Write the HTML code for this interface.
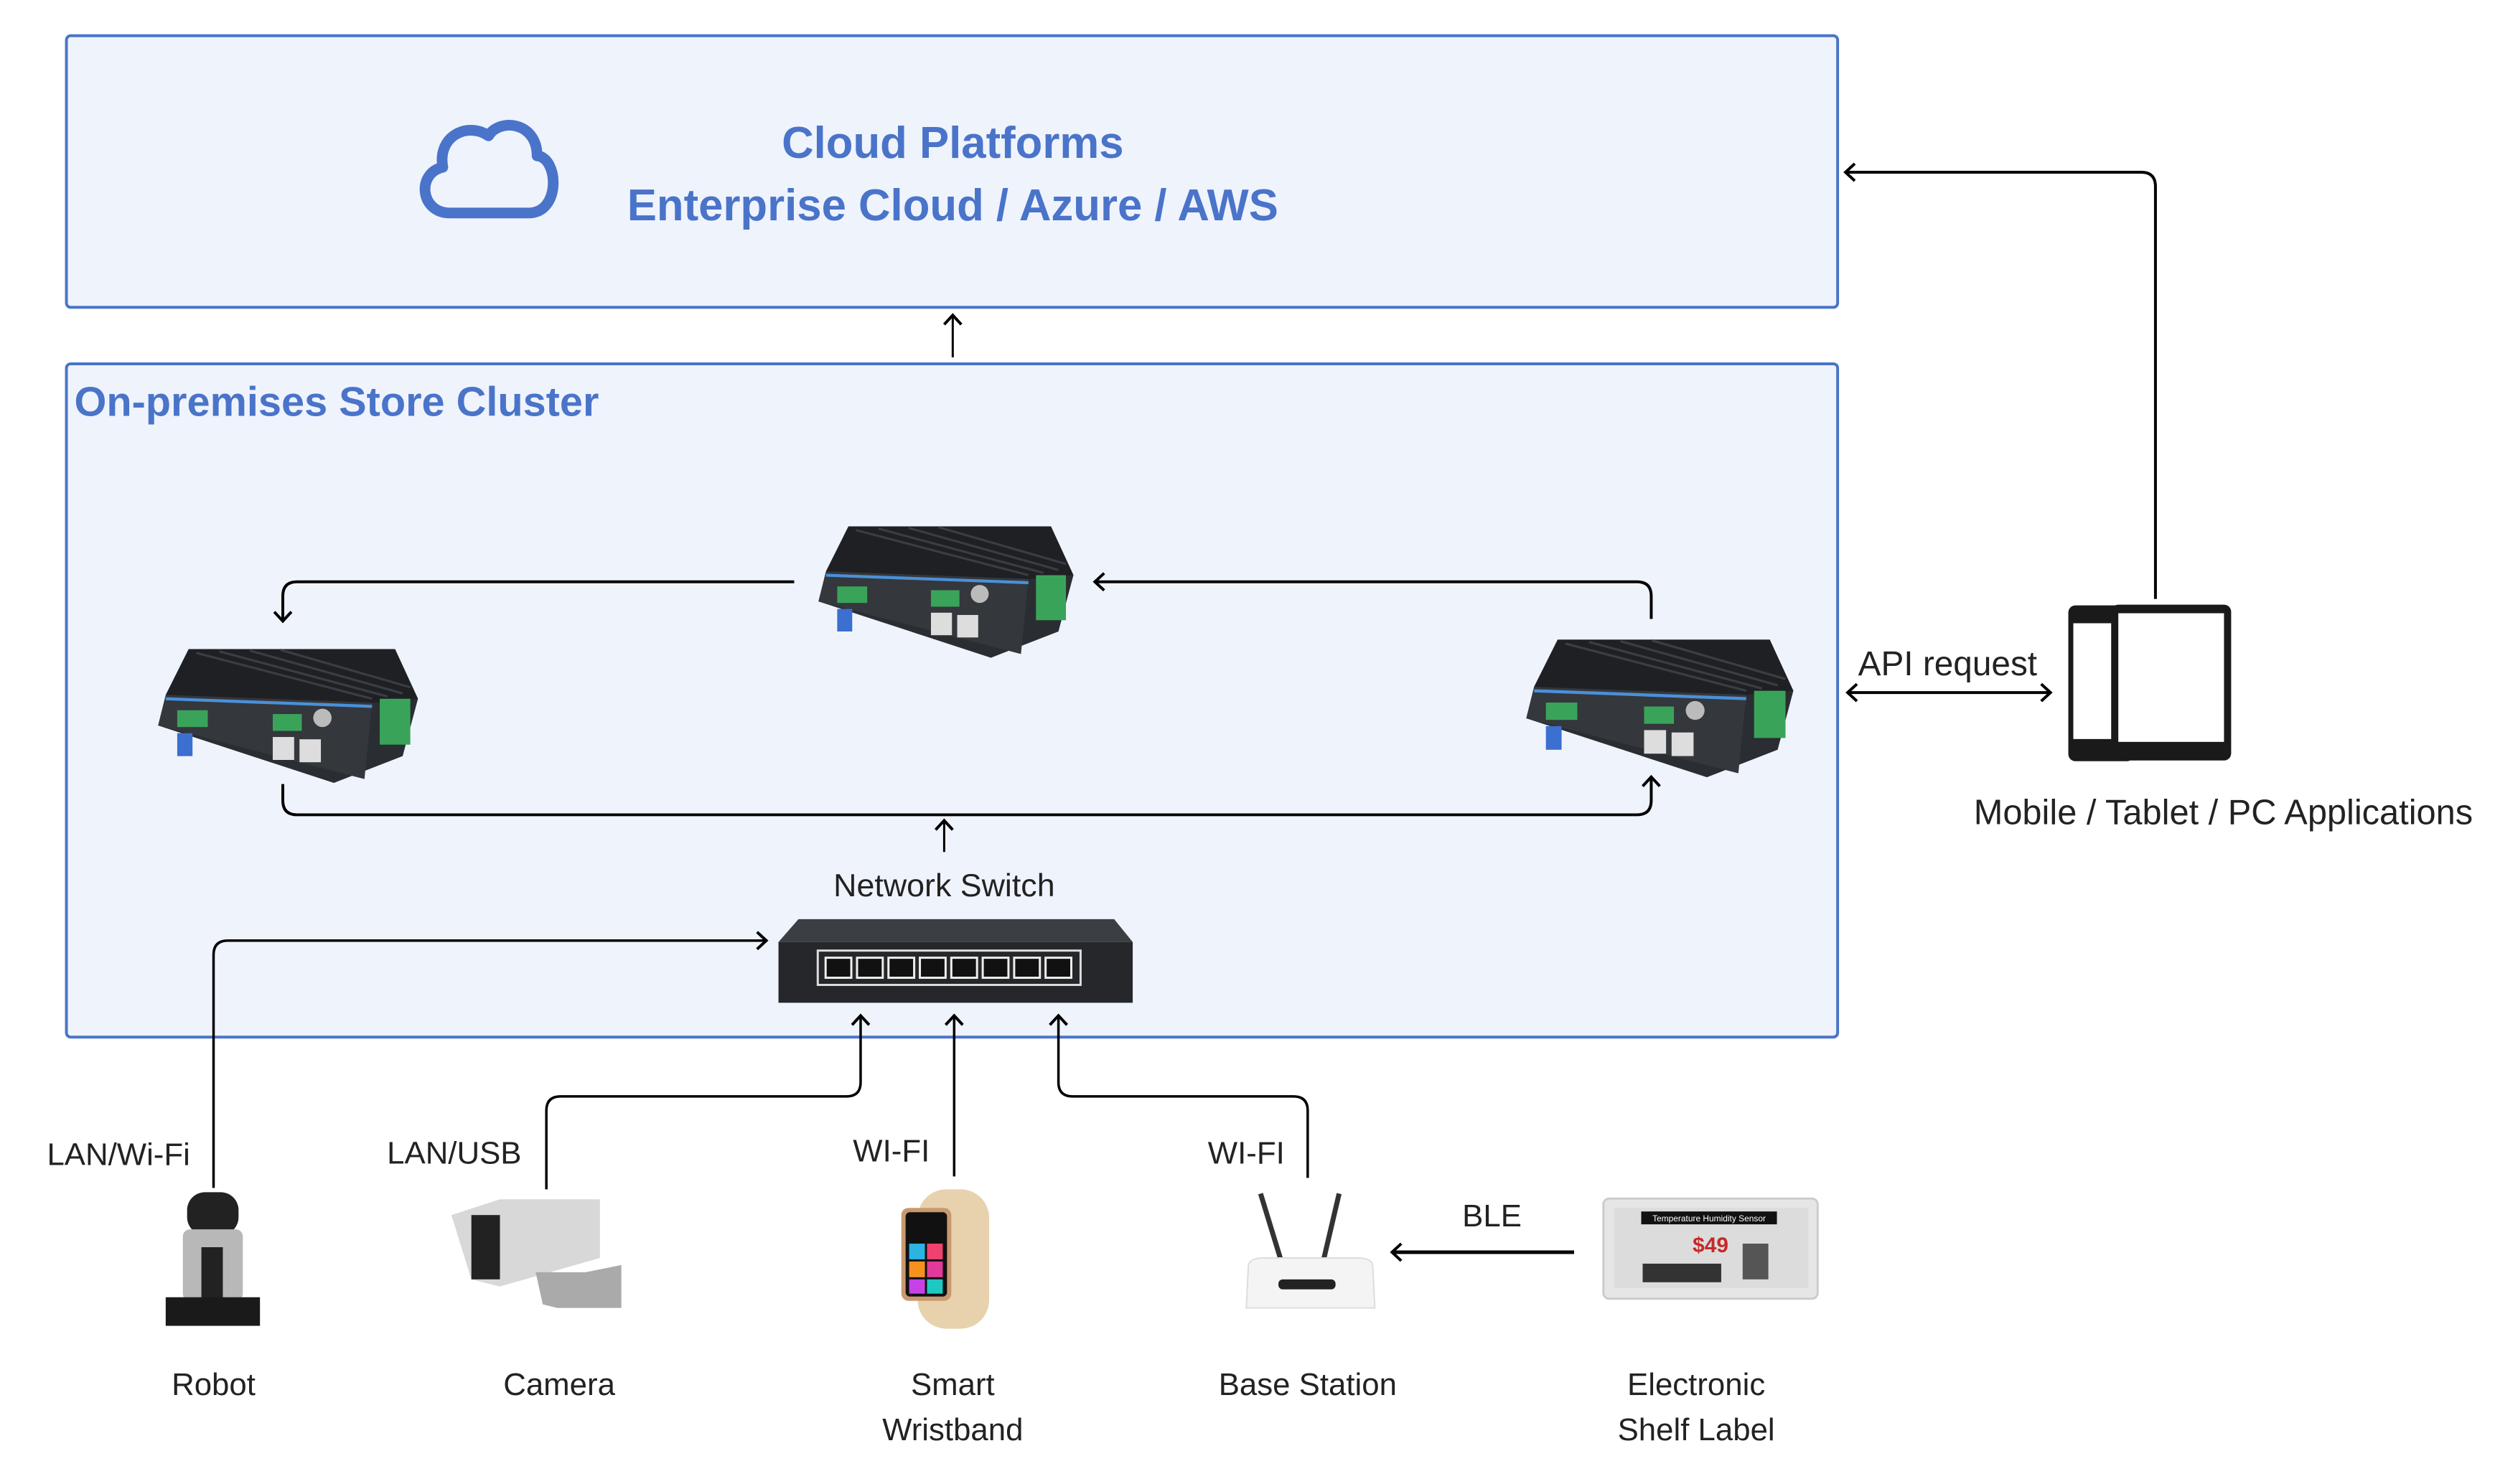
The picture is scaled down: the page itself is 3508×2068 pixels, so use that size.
<!DOCTYPE html>
<html><head><meta charset="utf-8"><style>
html,body{margin:0;padding:0;background:#fff;}
body{width:3508px;height:2068px;overflow:hidden;position:relative;font-family:"Liberation Sans",sans-serif;}
svg{position:absolute;left:0;top:0;}
</style></head><body>
<svg width="3508" height="2068" viewBox="0 0 3508 2068" xmlns="http://www.w3.org/2000/svg">
<defs>
<marker id="ah2" markerWidth="30" markerHeight="30" refX="26" refY="15" orient="auto-start-reverse" markerUnits="userSpaceOnUse" viewBox="0 0 30 30">
<path d="M14,3 L27,15 L14,27" fill="none" stroke="#000" stroke-width="4"/>
</marker>
<g id="server">
<polygon points="30,90 60,30 330,30 360,95 340,170 250,205 20,130" fill="#2a2d31"/>
<polygon points="60,30 330,30 360,95 300,100 30,90" fill="#1e2024"/>
<g stroke="#3a3d42" stroke-width="3">
<line x1="70" y1="35" x2="300" y2="95"/><line x1="100" y1="33" x2="320" y2="92"/><line x1="140" y1="32" x2="340" y2="88"/><line x1="180" y1="31" x2="350" y2="80"/>
</g>
<polygon points="30,90 300,100 290,200 20,130" fill="#34373c"/>
<line x1="30" y1="95" x2="300" y2="105" stroke="#4a90d9" stroke-width="4"/>
<rect x="45" y="110" width="40" height="22" fill="#3aa35a"/>
<rect x="170" y="115" width="38" height="22" fill="#3aa35a"/>
<rect x="310" y="95" width="40" height="60" fill="#3aa35a"/>
<rect x="45" y="140" width="20" height="30" fill="#3b6fd0"/>
<rect x="170" y="145" width="28" height="30" fill="#ddd"/>
<rect x="205" y="148" width="28" height="30" fill="#ddd"/>
<circle cx="235" cy="120" r="12" fill="#bbb"/>
</g>
</defs>
<g transform="scale(0.995,0.996)">
<!-- Cloud box -->
<rect x="93" y="50" width="2480" height="380" rx="6" fill="#eff3fc" stroke="#4a74c9" stroke-width="4"/>
<path d="M630,298 C588,298 583,242 620,234 C612,190 655,170 684,190 C699,165 752,170 752,218 C782,220 786,298 740,298 Z" fill="none" stroke="#4a74c9" stroke-width="15" stroke-linejoin="round"/>
<text x="1334" y="221" font-size="62" font-weight="bold" fill="#4a74c9" text-anchor="middle">Cloud Platforms</text>
<text x="1334" y="308" font-size="62" font-weight="bold" fill="#4a74c9" text-anchor="middle">Enterprise Cloud / Azure / AWS</text>

<!-- Cluster box -->
<rect x="93" y="509" width="2480" height="942" rx="6" fill="#eff3fc" stroke="#4a74c9" stroke-width="4"/>
<text x="104" y="582" font-size="58" font-weight="bold" fill="#4a74c9">On-premises Store Cluster</text>

<line x1="1334" y1="500" x2="1334" y2="442" stroke="#000" stroke-width="3" marker-end="url(#ah2)"/>

<use href="#server" transform="translate(1125,705) scale(1.05)"/>
<use href="#server" transform="translate(200,876) scale(1.07)"/>
<use href="#server" transform="translate(2115,862) scale(1.1)"/>

<g fill="none" stroke="#000" stroke-width="4">
<path d="M1112,814 H416 Q396,814 396,834 V868" marker-end="url(#ah2)"/>
<path d="M2312,866 V834 Q2312,814 2292,814 H1534" marker-end="url(#ah2)"/>
<path d="M396,1097 V1120 Q396,1140 416,1140 H2292 Q2312,1140 2312,1120 V1088" marker-end="url(#ah2)"/>
<line x1="1322" y1="1192" x2="1322" y2="1149" stroke-width="3" marker-end="url(#ah2)"/>
</g>
<text x="1322" y="1254" font-size="45" fill="#222" text-anchor="middle">Network Switch</text>

<polygon points="1118,1286 1560,1286 1586,1318 1090,1318" fill="#3b3e42"/>
<rect x="1090" y="1318" width="496" height="85" fill="#25272a"/>
<g fill="#111" stroke="#eee" stroke-width="3">
<rect x="1156" y="1340" width="36" height="28"/><rect x="1200" y="1340" width="36" height="28"/><rect x="1244" y="1340" width="36" height="28"/><rect x="1288" y="1340" width="36" height="28"/><rect x="1332" y="1340" width="36" height="28"/><rect x="1376" y="1340" width="36" height="28"/><rect x="1420" y="1340" width="36" height="28"/><rect x="1464" y="1340" width="36" height="28"/>
</g>
<rect x="1145" y="1330" width="368" height="48" fill="none" stroke="#ddd" stroke-width="3"/>

<g fill="none" stroke="#000" stroke-width="3.5">
<path d="M299,1662 V1336 Q299,1316 319,1316 H1072" marker-end="url(#ah2)"/>
<path d="M765,1664 V1554 Q765,1534 785,1534 H1185 Q1205,1534 1205,1514 V1422" marker-end="url(#ah2)"/>
<path d="M1336,1646 V1422" marker-end="url(#ah2)"/>
<path d="M1831,1648 V1554 Q1831,1534 1811,1534 H1502 Q1482,1534 1482,1514 V1422" marker-end="url(#ah2)"/>
<path d="M2204,1752 H1950" stroke-width="5" marker-end="url(#ah2)"/>
</g>
<g font-size="44" fill="#222" text-anchor="middle">
<text x="166" y="1630">LAN/Wi-Fi</text>
<text x="636" y="1628">LAN/USB</text>
<text x="1248" y="1625">WI-FI</text>
<text x="1745" y="1628">WI-FI</text>
<text x="2089" y="1716">BLE</text>
<text x="299" y="1952">Robot</text>
<text x="783" y="1952">Camera</text>
<text x="1334" y="1952">Smart</text>
<text x="1334" y="2015">Wristband</text>
<text x="1831" y="1952">Base Station</text>
<text x="2375" y="1952">Electronic</text>
<text x="2375" y="2015">Shelf Label</text>
</g>

<rect x="262" y="1668" width="72" height="60" rx="25" fill="#222"/>
<rect x="256" y="1720" width="84" height="100" rx="10" fill="#b8b8b8"/>
<rect x="282" y="1745" width="30" height="80" fill="#222"/>
<rect x="232" y="1815" width="132" height="40" fill="#1a1a1a"/>
<polygon points="632,1700 700,1678 840,1678 840,1760 700,1800 660,1790" fill="#d8d8d8"/>
<rect x="660" y="1700" width="40" height="90" fill="#222"/>
<polygon points="750,1780 820,1780 870,1770 870,1830 845,1830 780,1830 760,1825" fill="#aaa"/>
<rect x="1285" y="1664" width="100" height="195" rx="40" fill="#e8d2ae"/>
<rect x="1262" y="1690" width="70" height="130" rx="10" fill="#c9996e"/>
<rect x="1268" y="1696" width="58" height="118" rx="6" fill="#111"/>
<rect x="1273" y="1740" width="22" height="22" fill="#2bb3e3"/><rect x="1298" y="1740" width="22" height="22" fill="#f0426f"/>
<rect x="1273" y="1765" width="22" height="22" fill="#f7911e"/><rect x="1298" y="1765" width="22" height="22" fill="#e23a9a"/>
<rect x="1273" y="1790" width="22" height="20" fill="#c742e6"/><rect x="1298" y="1790" width="22" height="20" fill="#1ec9c2"/>
<line x1="1765" y1="1670" x2="1795" y2="1768" stroke="#333" stroke-width="7"/>
<line x1="1875" y1="1670" x2="1852" y2="1768" stroke="#333" stroke-width="7"/>
<path d="M1748,1770 Q1750,1760 1770,1760 H1900 Q1920,1760 1922,1770 L1925,1830 H1745 Z" fill="#f4f4f4" stroke="#ddd" stroke-width="2"/>
<rect x="1790" y="1790" width="80" height="14" rx="6" fill="#222"/>
<rect x="2245" y="1677" width="300" height="140" rx="8" fill="#e6e6e6" stroke="#ccc" stroke-width="3"/>
<rect x="2260" y="1690" width="272" height="112" fill="#dcdcdc"/>
<rect x="2298" y="1695" width="190" height="18" fill="#111"/>
<text x="2393" y="1709" font-size="12" fill="#fff" text-anchor="middle">Temperature Humidity Sensor</text>
<text x="2370" y="1752" font-size="30" font-weight="bold" fill="#c62828">$49</text>
<rect x="2300" y="1768" width="110" height="26" fill="#333"/>
<rect x="2440" y="1740" width="36" height="50" fill="#555"/>

<path d="M3018,838 V261 Q3018,241 2998,241 H2585" fill="none" stroke="#000" stroke-width="4" marker-end="url(#ah2)"/>
<line x1="2588" y1="969" x2="2870" y2="969" stroke="#000" stroke-width="4" marker-start="url(#ah2)" marker-end="url(#ah2)"/>
<text x="2727" y="945" font-size="48" fill="#222" text-anchor="middle">API request</text>
<rect x="2896" y="847" width="92" height="218" rx="10" fill="#1a1a1a"/>
<rect x="2903" y="872" width="78" height="162" fill="#fff"/>
<rect x="2956" y="846" width="168" height="218" rx="10" fill="#1a1a1a"/>
<rect x="2966" y="858" width="148" height="180" fill="#fff"/>
<text x="3113" y="1153" font-size="49" fill="#222" text-anchor="middle">Mobile / Tablet / PC Applications</text>
</g>
</svg>
</body></html>
